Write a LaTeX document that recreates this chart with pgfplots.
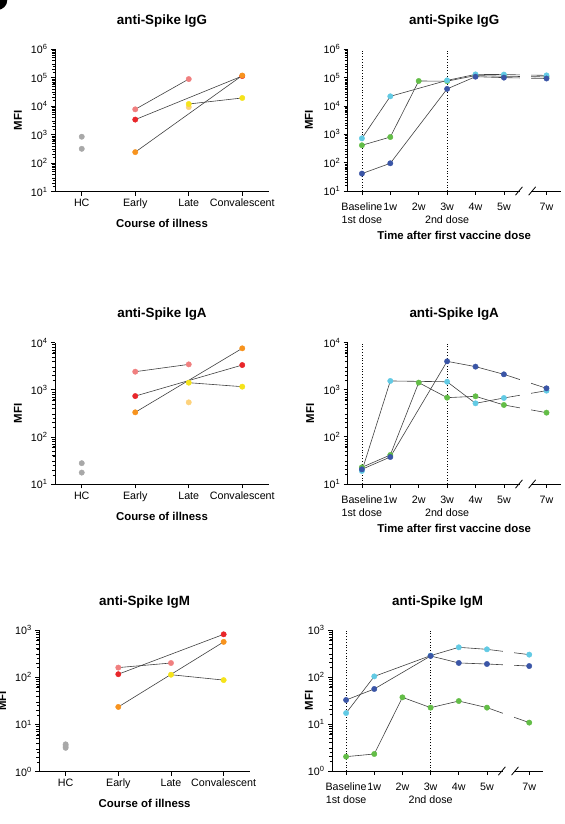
\documentclass[border=0pt]{standalone}
\usepackage{pgfplots}
\pgfplotsset{compat=1.18}
\usepackage{fontspec}
\setmainfont{Liberation Sans}
\definecolor{cgray}{HTML}{A8A8A8}
\definecolor{cpink}{HTML}{F07F7F}
\definecolor{cred}{HTML}{E8262A}
\definecolor{corange}{HTML}{F7931E}
\definecolor{cyellow}{HTML}{F5E31A}
\definecolor{cpale}{HTML}{FDD27C}
\definecolor{ccyan}{HTML}{62CAE4}
\definecolor{cgreen}{HTML}{63BD47}
\definecolor{cblue}{HTML}{3A55A6}
\newcommand{\myTickFont}{\fontsize{10.7bp}{12.8bp}\selectfont}
\newcommand{\myTitleFont}{\fontsize{13.4bp}{16bp}\selectfont\bfseries}
\newcommand{\myLabFont}{\fontsize{11.4bp}{13.6bp}\selectfont\bfseries}
\pgfplotsset{
  every axis title/.style={font=\myTitleFont, at={(0.5,1)}, anchor=base, yshift=24.8bp},
  every axis/.append style={
    scale only axis, clip=false,
    axis x line=bottom, axis y line=left,
    axis line style={-, line width=0.9bp, black},
    tick align=outside, major tick length=4bp,
    tick style={line width=0.8bp, black},
    ylabel=MFI,
    xticklabel style={font=\myTickFont, anchor=north},
    yticklabel style={font=\myTickFont},
    extra y tick labels={},
    extra y tick style={major tick length=2.4bp, tick style={line width=0.7bp, black}},
  },
  /pgfplots/myL/.style={xmin=-0.5, xmax=3.5, xtick={0,1,2,3},
    xticklabels={HC,Early,Late,Convalescent},
    xlabel={Course of illness},
    xlabel style={font=\myLabFont, at={(axis description cs:0.5,0)}, anchor=base, yshift=-36bp},
    ylabel style={font=\myLabFont, at={(axis description cs:-0.173,0.5)}, anchor=center}},
  /pgfplots/myR/.style={xmin=-0.5, xmax=7, xtick={0,1,2,3,4,5,6.5},
    xticklabels={Baseline\\1st dose,1w,2w,3w\\2nd dose,4w,5w,7w},
    xticklabel style={align=center, yshift=-4.5bp}},
  /pgfplots/myDsix/.style={ymin=10, ymax=1e6, ytick={10,100,1000,10000,100000,1000000},
    yticklabels={10\textsuperscript{1},10\textsuperscript{2},10\textsuperscript{3},10\textsuperscript{4},10\textsuperscript{5},10\textsuperscript{6}},
    extra y ticks={15.85,25.12,39.81,63.10,158.5,251.2,398.1,631.0,1585,2512,3981,6310,15850,25120,39810,63100,158500,251200,398100,631000}},
  /pgfplots/myDfour/.style={ymin=10, ymax=1e4, ytick={10,100,1000,10000},
    yticklabels={10\textsuperscript{1},10\textsuperscript{2},10\textsuperscript{3},10\textsuperscript{4}},
    extra y ticks={15.85,25.12,39.81,63.10,158.5,251.2,398.1,631.0,1585,2512,3981,6310}},
  /pgfplots/myDthree/.style={ymin=1, ymax=1e3, ytick={1,10,100,1000},
    yticklabels={10\textsuperscript{0},10\textsuperscript{1},10\textsuperscript{2},10\textsuperscript{3}},
    extra y ticks={1.585,2.512,3.981,6.310,15.85,25.12,39.81,63.10,158.5,251.2,398.1,631.0}},
}
\tikzset{
  myln/.style={black!75, line width=0.6bp, mark=none},
  mypt/.style={only marks, mark=*, color=#1, mark size=2.7bp, mark options={solid, draw=#1, fill=#1, line width=0.4bp}},
  myvl/.style={black, dotted, line width=0.8bp, mark=none},
}
\begin{document}
\begin{tikzpicture}[x=1bp,y=1bp]
\useasboundingbox (0,0) rectangle (565,824);
\fill[black] (-2.7,824) circle (10);

% ---------- IgG course ----------
\begin{semilogyaxis}[myL, myDsix, at={(55bp,632.3bp)}, anchor=south west, width=214bp, height=142.4bp,
  title={anti-Spike IgG}]
\addplot[myln] coordinates {(1,7800) (2,90000)};
\addplot[myln] coordinates {(1,3400) (3,115000)};
\addplot[myln] coordinates {(1,245) (3,120000)};
\addplot[myln] coordinates {(2,12000) (3,19500)};
\addplot[mypt=cgray] coordinates {(0,850) (0,320)};
\addplot[mypt=cpink] coordinates {(1,7800) (2,90000)};
\addplot[mypt=cred] coordinates {(1,3400) (3,115000)};
\addplot[mypt=corange] coordinates {(1,245) (3,120000)};
\addplot[mypt=cpale] coordinates {(2,9300)};
\addplot[mypt=cyellow] coordinates {(2,12000) (3,19500)};
\end{semilogyaxis}

% ---------- IgG vaccine ----------
\begin{semilogyaxis}[myR, myDsix, at={(347.7bp,633bp)}, anchor=south west, width=213bp, height=141.7bp,
  title={anti-Spike IgG}, xlabel={Time after first vaccine dose},
  xlabel style={font=\myLabFont, at={(axis description cs:0.5,0)}, anchor=base, yshift=-49bp},
  ylabel style={font=\myLabFont, at={(axis description cs:-0.182,0.5)}, anchor=center}]
\addplot[myvl] coordinates {(0,10) (0,1e6)};
\addplot[myvl] coordinates {(3,10) (3,1e6)};
\addplot[myln] coordinates {(0,410) (1,800) (2,76000) (3,75000) (4,118000) (5,112000) (6.5,106000)};
\addplot[myln] coordinates {(0,720) (1,21900) (3,80000) (4,130000) (5,128000) (6.5,120000)};
\addplot[myln] coordinates {(0,41) (1,95) (3,40000) (4,108000) (5,100000) (6.5,93000)};
\addplot[mypt=cgreen] coordinates {(0,410) (1,800) (2,76000) (3,75000) (4,118000) (5,112000) (6.5,106000)};
\addplot[mypt=ccyan] coordinates {(0,720) (1,21900) (3,80000) (4,130000) (5,128000) (6.5,120000)};
\addplot[mypt=cblue] coordinates {(0,41) (1,95) (3,40000) (4,108000) (5,100000) (6.5,93000)};
\coordinate (Aa) at (rel axis cs:0.807,0);
\coordinate (Ab) at (rel axis cs:0.860,1);
\coordinate (As1) at (rel axis cs:0.804,0);
\coordinate (As2) at (rel axis cs:0.866,0);
\end{semilogyaxis}
\fill[white] ([yshift=-1.5bp]Aa) rectangle (Ab);
\draw[line width=0.8bp] ([xshift=-3.5bp,yshift=-4.2bp]As1) -- ([xshift=3.5bp,yshift=4.2bp]As1);
\draw[line width=0.8bp] ([xshift=-3.5bp,yshift=-4.2bp]As2) -- ([xshift=3.5bp,yshift=4.2bp]As2);

% ---------- IgA course ----------
\begin{semilogyaxis}[myL, myDfour, at={(55bp,339.7bp)}, anchor=south west, width=214bp, height=141.6bp,
  title={anti-Spike IgA}]
\addplot[myln] coordinates {(1,2430) (2,3470)};
\addplot[myln] coordinates {(1,740) (3,3360)};
\addplot[myln] coordinates {(1,335) (3,7600)};
\addplot[myln] coordinates {(2,1420) (3,1170)};
\addplot[mypt=cgray] coordinates {(0,28) (0,17.7)};
\addplot[mypt=cpink] coordinates {(1,2430) (2,3470)};
\addplot[mypt=cred] coordinates {(1,740) (3,3360)};
\addplot[mypt=corange] coordinates {(1,335) (3,7600)};
\addplot[mypt=cpale] coordinates {(2,545)};
\addplot[mypt=cyellow] coordinates {(2,1420) (3,1170)};
\end{semilogyaxis}

% ---------- IgA vaccine ----------
\begin{semilogyaxis}[myR, myDfour, at={(347.7bp,340bp)}, anchor=south west, width=213bp, height=141.3bp,
  title={anti-Spike IgA}, xlabel={Time after first vaccine dose},
  xlabel style={font=\myLabFont, at={(axis description cs:0.5,0)}, anchor=base, yshift=-49bp},
  ylabel style={font=\myLabFont, at={(axis description cs:-0.176,0.5)}, anchor=center}]
\addplot[myvl] coordinates {(0,10) (0,1e4)};
\addplot[myvl] coordinates {(3,10) (3,1e4)};
\addplot[myln] coordinates {(0,22.6) (1,41.3) (2,1420) (3,681) (4,727) (5,476) (6.5,327)};
\addplot[myln] coordinates {(0,18.9) (1,1540) (3,1480) (4,516) (5,670) (6.5,958)};
\addplot[myln] coordinates {(0,20.5) (1,37.4) (3,4020) (4,3100) (5,2130) (6.5,1075)};
\addplot[mypt=cgreen] coordinates {(0,22.6) (1,41.3) (2,1420) (3,681) (4,727) (5,476) (6.5,327)};
\addplot[mypt=ccyan] coordinates {(0,18.9) (1,1540) (3,1480) (4,516) (5,670) (6.5,958)};
\addplot[mypt=cblue] coordinates {(0,20.5) (1,37.4) (3,4020) (4,3100) (5,2130) (6.5,1075)};
\coordinate (Ba) at (rel axis cs:0.807,0);
\coordinate (Bb) at (rel axis cs:0.860,1);
\coordinate (Bs1) at (rel axis cs:0.804,0);
\coordinate (Bs2) at (rel axis cs:0.866,0);
\end{semilogyaxis}
\fill[white] ([yshift=-1.5bp]Ba) rectangle (Bb);
\draw[line width=0.8bp] ([xshift=-3.5bp,yshift=-4.2bp]Bs1) -- ([xshift=3.5bp,yshift=4.2bp]Bs1);
\draw[line width=0.8bp] ([xshift=-3.5bp,yshift=-4.2bp]Bs2) -- ([xshift=3.5bp,yshift=4.2bp]Bs2);

% ---------- IgM course ----------
\begin{semilogyaxis}[myL, myDthree, at={(39.3bp,52.3bp)}, anchor=south west, width=210.7bp, height=141.7bp,
  title={anti-Spike IgM},
  ylabel style={font=\myLabFont, at={(axis description cs:-0.176,0.5)}, anchor=center}]
\addplot[myln] coordinates {(1,160) (2,200)};
\addplot[myln] coordinates {(1,116) (3,810)};
\addplot[myln] coordinates {(1,23.5) (3,560)};
\addplot[myln] coordinates {(2,113) (3,87)};
\addplot[mypt=cgray] coordinates {(0,3.8) (0,3.5) (0,3.2)};
\addplot[mypt=cpink] coordinates {(1,160) (2,200)};
\addplot[mypt=cred] coordinates {(1,116) (3,810)};
\addplot[mypt=corange] coordinates {(1,23.5) (3,560)};
\addplot[mypt=cyellow] coordinates {(2,113) (3,87)};
\end{semilogyaxis}

% ---------- IgM vaccine ----------
\begin{semilogyaxis}[myR, myDthree, at={(332bp,53bp)}, anchor=south west, width=211.3bp, height=141bp,
  title={anti-Spike IgM},
  ylabel style={font=\myLabFont, at={(axis description cs:-0.109,0.5)}, anchor=center}]
\addplot[myvl] coordinates {(0,1) (0,1e3)};
\addplot[myvl] coordinates {(3,1) (3,1e3)};
\addplot[myln] coordinates {(0,2.02) (1,2.30) (2,36.9) (3,22.3) (4,30.8) (5,22.3) (6.5,10.7)};
\addplot[myln] coordinates {(0,17.1) (1,103) (3,285) (4,428) (5,388) (6.5,299)};
\addplot[myln] coordinates {(0,32.4) (1,55.6) (3,280) (4,199) (5,189) (6.5,171)};
\addplot[mypt=cgreen] coordinates {(0,2.02) (1,2.30) (2,36.9) (3,22.3) (4,30.8) (5,22.3) (6.5,10.7)};
\addplot[mypt=ccyan] coordinates {(0,17.1) (1,103) (3,285) (4,428) (5,388) (6.5,299)};
\addplot[mypt=cblue] coordinates {(0,32.4) (1,55.6) (3,280) (4,199) (5,189) (6.5,171)};
\coordinate (Ca) at (rel axis cs:0.807,0);
\coordinate (Cb) at (rel axis cs:0.860,1);
\coordinate (Cs1) at (rel axis cs:0.804,0);
\coordinate (Cs2) at (rel axis cs:0.866,0);
\end{semilogyaxis}
\fill[white] ([yshift=-1.5bp]Ca) rectangle (Cb);
\draw[line width=0.8bp] ([xshift=-3.5bp,yshift=-4.2bp]Cs1) -- ([xshift=3.5bp,yshift=4.2bp]Cs1);
\draw[line width=0.8bp] ([xshift=-3.5bp,yshift=-4.2bp]Cs2) -- ([xshift=3.5bp,yshift=4.2bp]Cs2);
\end{tikzpicture}
\end{document}
